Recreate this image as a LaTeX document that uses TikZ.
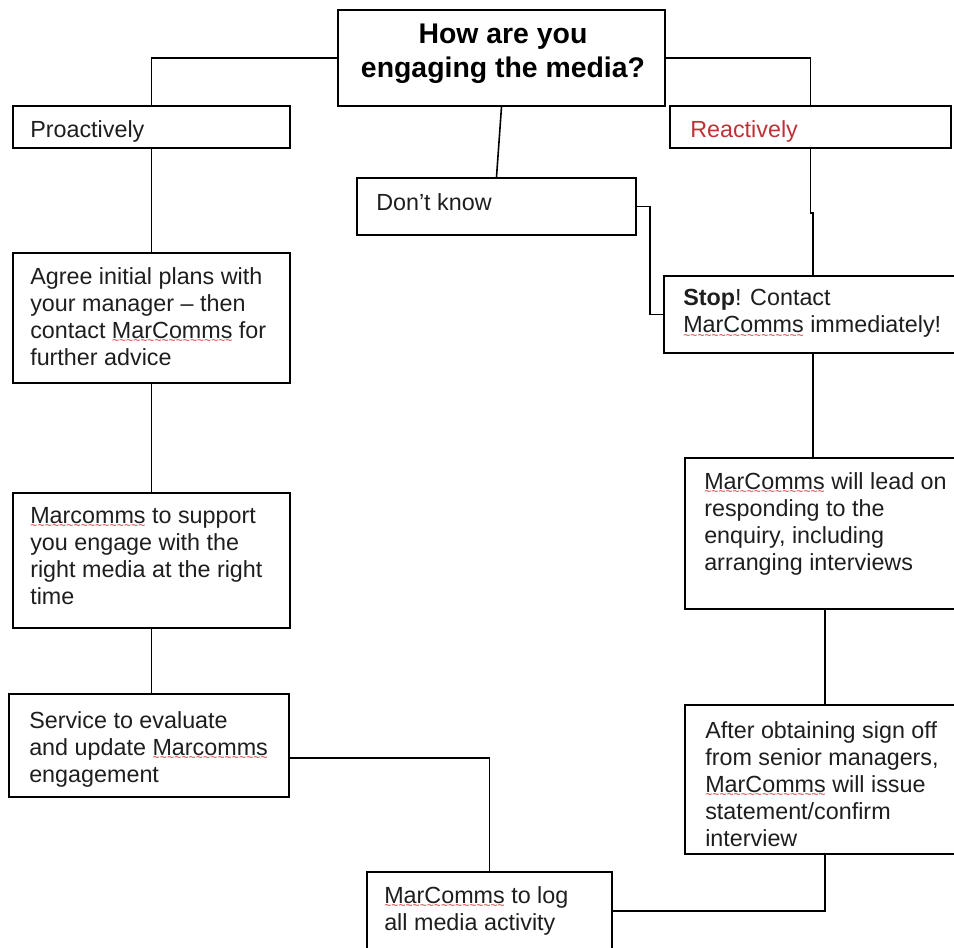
\documentclass[tikz,border=0pt]{standalone}
\usepackage{fontspec}
\setmainfont{Liberation Sans}
\usetikzlibrary{fit}
\definecolor{txtc}{RGB}{30,30,30}
\definecolor{redtxt}{RGB}{190,50,55}
\definecolor{wavec}{RGB}{210,45,45}
\newsavebox\sqbox
\newcommand\sq[1]{\sbox\sqbox{#1}\rlap{\textcolor{wavec}{\raisebox{-5pt}[0pt][0pt]{\hbox to\wd\sqbox{\fontsize{9}{9}\selectfont\xleaders\hbox{\char"7E}\hfil}}}}#1}
\tikzset{
  box/.style={draw=black, line width=1.2pt, inner sep=0pt},
  txt/.style={inner sep=0pt, align=left, font=\fontsize{17.5}{20.3}\selectfont, text=txtc},
  ttl/.style={inner sep=0pt, align=center, font=\bfseries\fontsize{21.3}{25.5}\selectfont, text=black},
  conn/.style={draw=black, line width=1.2pt},
}
\begin{document}
\begin{tikzpicture}[x=0.75pt,y=-0.75pt]
\useasboundingbox (0,0) rectangle (954,947);
\clip (0,0) rectangle (954,947);
% boxes
\node[box, fit={(338,10)(665,106)}] (title) {};
\node[box, fit={(13,106)(290,148)}] (pro) {};
\node[box, fit={(670,106)(951,148)}] (react) {};
\node[box, fit={(357,178)(636,235)}] (dk) {};
\node[box, fit={(13,253)(290,383)}] (agree) {};
\node[box, fit={(13,493)(290,628)}] (support) {};
\node[box, fit={(9,694)(289,797)}] (service) {};
\node[box, fit={(664,276)(962,353)}] (stop) {};
\node[box, fit={(685,458)(965,609)}] (lead) {};
\node[box, fit={(685,705)(965,854)}] (after) {};
\node[box, fit={(367,872)(612,950)}] (log) {};
% texts
\node[ttl, anchor=north] (titlet) at (503,24) {How are you\\engaging the media?};
\node[txt, anchor=base west] (prot) at (30,137) {Proactively};
\node[txt, anchor=base west, text=redtxt] (reactt) at (690,137) {Reactively};
\node[txt, anchor=base west] (dkt) at (376,210) {Don’t know};
\node[txt, anchor=north west] (agreet) at (30,267) {Agree initial plans with\\your manager -- then\\contact \sq{MarComms} for\\further advice};
\node[txt, anchor=north west] (supportt) at (30,507) {\sq{Marcomms} to support\\you engage with the\\right media at the right\\time};
\node[txt, anchor=north west] (servicet) at (29,711) {Service to evaluate\\and update \sq{Marcomms}\\engagement};
\node[txt, anchor=north west] (stopt) at (683,289) {\textbf{Stop}! Contact\\\sq{MarComms} immediately!};
\node[txt, anchor=north west] (leadt) at (704,472) {\sq{MarComms} will lead on\\responding to the\\enquiry, including\\arranging interviews};
\node[txt, anchor=north west] (aftert) at (705,721) {After obtaining sign off\\from senior managers,\\\sq{MarComms} will issue\\statement/confirm\\interview};
\node[txt, anchor=north west] (logt) at (384,886) {\sq{MarComms} to log\\all media activity};
% connectors
\coordinate (jog) at (813,213);
\coordinate (dkj) at (650,206);
\draw[conn] (title.west) -| (pro.north);
\draw[conn] (title.east) -| (react.north);
\draw[conn] (title.south) -- (dk.north);
\draw[conn] (pro.south) -- (agree.north);
\draw[conn] (agree.south) -- (support.north);
\draw[conn] (support.south) -- (support.south |- service.north);
\draw[conn] ([yshift=-9.4pt]service.east) -| (log.north);
\draw[conn] (log.east) -| (after.south);
\draw[conn] (after.north) -- (lead.south);
\draw[conn] (stop.south) -- (stop.south |- lead.north);
\draw[conn] (react.south) -- (react.south |- jog) -- (jog) -- (stop.north);
\draw[conn] (dk.east) -- (dk.east -| dkj) |- (stop.west);
\end{tikzpicture}
\end{document}
